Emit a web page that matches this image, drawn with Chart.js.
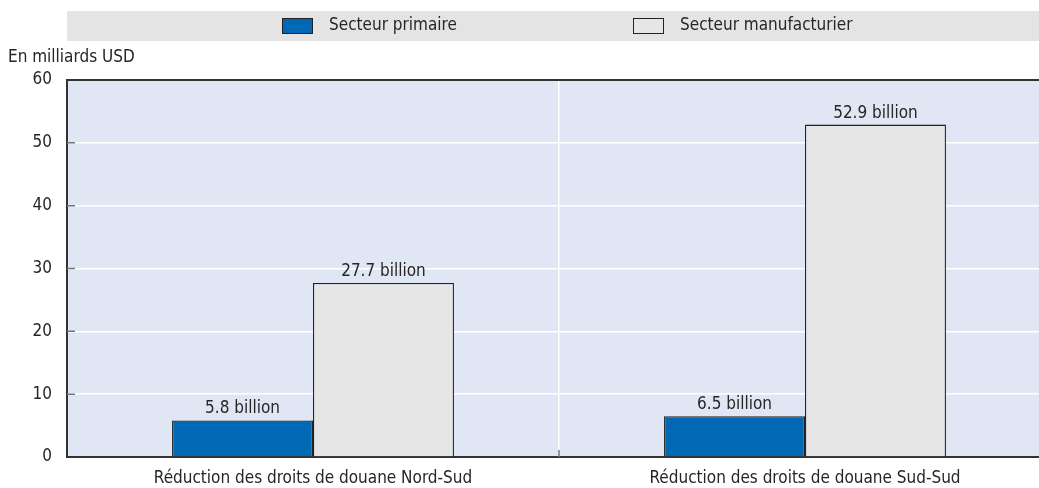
<!DOCTYPE html>
<html lang="fr">
<head>
    <meta charset="UTF-8">
    <title>Droits de douane</title>
    <style>
        html, body { margin: 0; background: #fff; overflow: hidden; }
        #wrap { width: 1051px; height: 488px; }
    </style>
</head>
<body>
    <div id="wrap">
        <canvas id="myChart"></canvas>
    </div>

    <script src="https://cdn.jsdelivr.net/npm/chart.js"></script>

    <script>
    const categories = ["Réduction des droits de douane Nord-Sud", "Réduction des droits de douane Sud-Sud"];
    const primaire = [5.8, 6.5];
    const manufacturier = [27.7, 52.9];
    const yTicks = [0, 10, 20, 30, 40, 50, 60];
    const unitLabel = "En milliards USD";

    const FONT = "'Liberation Sans Narrow', 'Arial Narrow', 'DejaVu Sans Condensed', sans-serif";
    const FS = 17;
    const TXT = '#262626';

    // grey legend band, plot background, unit label, inner ticks, value labels
    const decor = {
        id: 'decor',
        beforeDraw(chart) {
            const c = chart.ctx;
            const a = chart.chartArea;
            c.save();
            c.fillStyle = '#E4E4E5';
            c.fillRect(a.left, 11, a.right - a.left, 30);
            c.fillStyle = '#E0E6F4';
            c.fillRect(a.left, a.top, a.right - a.left, a.bottom - a.top);

            const xs = [282, 633];
            c.font = FS + 'px ' + FONT;
            c.textBaseline = 'middle';
            chart.data.datasets.forEach((ds, i) => {
                c.fillStyle = ds.backgroundColor;
                c.fillRect(xs[i], 18, 30, 15);
                c.strokeStyle = '#222';
                c.lineWidth = 1;
                c.strokeRect(xs[i] + 0.5, 18.5, 30, 15);
                c.fillStyle = TXT;
                c.fillText(ds.label, xs[i] + 47, 26);
            });

            c.textAlign = 'left';
            c.fillText(unitLabel, 8, 58);
            c.restore();
        },
        afterDraw(chart) {
            const c = chart.ctx;
            const a = chart.chartArea;
            const y = chart.scales.y;
            const x = chart.scales.x;
            c.save();
            c.strokeStyle = '#333';
            c.lineWidth = 2;
            c.beginPath();
            c.moveTo(a.left, a.top);
            c.lineTo(a.right, a.top);
            c.stroke();

            // small ticks drawn inside the plot
            c.strokeStyle = '#777';
            c.lineWidth = 1.5;
            c.beginPath();
            yTicks.forEach(v => {
                if (v === 0 || v === 60) return;
                const py = y.getPixelForValue(v);
                c.moveTo(a.left, py);
                c.lineTo(a.left + 8, py);
            });
            for (let i = 1; i < categories.length; i++) {
                const px = (x.getPixelForValue(i - 1) + x.getPixelForValue(i)) / 2;
                c.moveTo(px, a.bottom);
                c.lineTo(px, a.bottom - 7);
            }
            c.stroke();

            // value labels
            c.font = FS + 'px ' + FONT;
            c.fillStyle = TXT;
            c.textAlign = 'center';
            c.textBaseline = 'bottom';
            chart.data.datasets.forEach((ds, i) => {
                chart.getDatasetMeta(i).data.forEach((bar, j) => {
                    c.fillText(ds.data[j] + ' billion', bar.x, bar.y - 3);
                });
            });
            c.restore();
        }
    };

    new Chart(document.getElementById('myChart'), {
        type: 'bar',
        data: {
            labels: categories,
            datasets: [{
                label: 'Secteur primaire',
                data: primaire,
                backgroundColor: '#0068B5',
                borderColor: '#222',
                borderWidth: 1.3,
                categoryPercentage: 0.573,
                barPercentage: 1
            }, {
                label: 'Secteur manufacturier',
                data: manufacturier,
                backgroundColor: '#E6E6E6',
                borderColor: '#222',
                borderWidth: 1.3,
                categoryPercentage: 0.573,
                barPercentage: 1
            }]
        },
        options: {
            responsive: true,
            maintainAspectRatio: false,
            animation: false,
            layout: { padding: { top: 80, right: 0, left: 0, bottom: 0 } },
            plugins: {
                legend: { display: false },
                tooltip: { enabled: false }
            },
            scales: {
                x: {
                    grid: { color: '#fff', lineWidth: 1.5, drawTicks: false },
                    border: { color: '#333', width: 2 },
                    ticks: { color: TXT, font: { family: FONT, size: FS }, padding: 11 },
                    afterFit(s) { s.height = 31; }
                },
                y: {
                    min: 0,
                    max: 60,
                    afterBuildTicks(s) { s.ticks = yTicks.map(v => ({ value: v })); },
                    grid: { color: '#fff', lineWidth: 1.5, drawTicks: false },
                    border: { color: '#333', width: 2 },
                    ticks: { color: TXT, font: { family: FONT, size: FS }, padding: 15 },
                    afterFit(s) { s.width = 67; }
                }
            }
        },
        plugins: [decor]
    });
    </script>
</body>
</html>
